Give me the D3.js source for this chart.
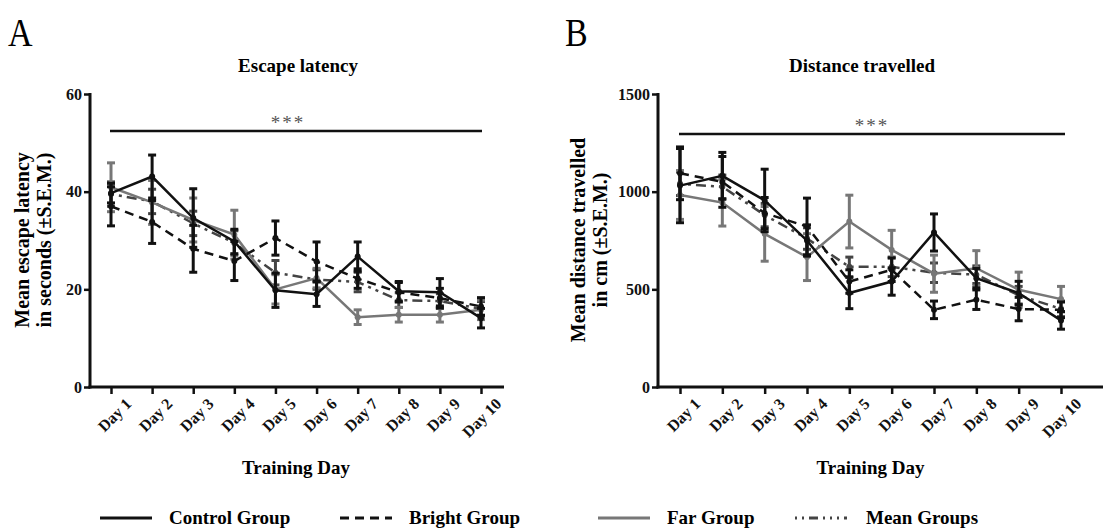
<!DOCTYPE html>
<html>
<head>
<meta charset="utf-8">
<script src="https://cdn.jsdelivr.net/npm/d3@7"></script>
<style>
  body { margin: 0; background: #fff; }
  svg text { font-family: "Liberation Serif", "DejaVu Serif", serif; }
</style>
</head>
<body>
<svg id="chart" width="1103" height="529"></svg>
<script>
// categories
const days = ["Day 1", "Day 2", "Day 3", "Day 4", "Day 5", "Day 6", "Day 7", "Day 8", "Day 9", "Day 10"];
const groups = ["Control Group", "Bright Group", "Far Group", "Mean Groups"];

// A - escape latency (s), mean and SEM
const latControl = [39.7, 43.1, 34.6, 29.8, 19.8, 19.0, 26.7, 19.6, 19.4, 14.1];
const latControlErr = [2.0, 4.4, 6.0, 2.5, 3.5, 2.5, 3.0, 2.0, 2.8, 2.0];
const latBright = [37.0, 33.8, 28.3, 25.8, 30.5, 25.7, 22.2, 19.4, 18.2, 16.5];
const latBrightErr = [4.0, 4.4, 4.8, 4.0, 3.5, 4.0, 2.0, 2.0, 2.0, 1.8];
const latFar = [40.9, 37.8, 34.2, 31.2, 20.0, 22.3, 14.3, 14.8, 14.8, 15.8];
const latFarErr = [5.0, 4.5, 4.5, 5.0, 3.0, 2.0, 1.5, 1.5, 1.5, 2.0];
const latMean = [39.5, 38.0, 33.5, 29.5, 23.4, 22.0, 21.5, 17.8, 17.6, 16.0];
const latMeanErr = [2.5, 2.5, 2.5, 2.5, 2.5, 2.0, 2.0, 1.5, 1.5, 1.5];

// B - distance travelled (cm), mean and SEM
const distControl = [1031, 1081, 955, 750, 481, 540, 791, 557, 481, 341];
const distControlErr = [190, 120, 160, 80, 80, 70, 95, 50, 60, 45];
const distBright = [1094, 1050, 890, 822, 540, 600, 395, 447, 399, 395];
const distBrightErr = [135, 130, 80, 145, 60, 60, 45, 50, 60, 40];
const distFar = [983, 944, 784, 665, 847, 702, 580, 608, 498, 450];
const distFarErr = [125, 120, 140, 120, 135, 100, 95, 90, 90, 65];
const distMean = [1040, 1025, 880, 760, 615, 615, 585, 575, 470, 400];
const distMeanErr = [60, 60, 60, 55, 50, 50, 50, 45, 45, 40];

// tick labels
const latTicks = [0, 20, 40, 60];
const distTicks = [0, 500, 1000, 1500];

const styles = {
  "Control Group": { color: "#111", dash: null },
  "Bright Group": { color: "#111", dash: "9,6" },
  "Far Group": { color: "#777", dash: null },
  "Mean Groups": { color: "#444", dash: "3,5,3,5,10,5" }
};

const svg = d3.select("#chart");

function drawPanel(p) {
  const g = svg.append("g");
  const x = d3.scalePoint().domain(days).range([p.x0, p.x1]);
  const y = d3.scaleLinear().domain([0, p.max]).range([387, 94]);

  // panel letter and title
  g.append("text").attr("x", p.letterX).attr("y", 46)
    .attr("font-size", 40).attr("transform", `scale(0.85,1) translate(${p.letterX * 0.1765},0)`)
    .text(p.letter);
  g.append("text").attr("x", p.titleX).attr("y", 72)
    .attr("text-anchor", "middle").attr("font-size", 19).attr("font-weight", "bold")
    .text(p.title);

  // y axis
  const yAxis = g.append("g").attr("transform", `translate(${p.axisX},0)`)
    .call(d3.axisLeft(y).tickValues(p.ticks).tickSize(6).tickPadding(2).tickFormat(d3.format("d")));
  yAxis.select(".domain").remove();
  yAxis.selectAll("line").attr("stroke", "#111").attr("stroke-width", 2.5);
  yAxis.selectAll("text").attr("font-size", 16).attr("font-weight", "bold")
    .attr("font-family", "Liberation Serif").attr("fill", "#111");
  g.append("line").attr("x1", p.axisX).attr("x2", p.axisX)
    .attr("y1", y(p.max) - 1).attr("y2", y(0) + 1.5)
    .attr("stroke", "#111").attr("stroke-width", 3);

  // x axis
  const xAxis = g.append("g").attr("transform", `translate(0,${y(0)})`)
    .call(d3.axisBottom(x).tickSize(7).tickPadding(3));
  xAxis.select(".domain").remove();
  xAxis.selectAll("line").attr("stroke", "#111").attr("stroke-width", 2.5);
  xAxis.selectAll("text").attr("font-size", 16).attr("font-weight", "bold")
    .attr("font-family", "Liberation Serif").attr("fill", "#111")
    .attr("text-anchor", "end")
    .attr("transform", "translate(7,4) rotate(-45)")
    .attr("dy", "0.6em");
  g.append("line").attr("x1", p.axisX - 1.5).attr("x2", p.axisEnd)
    .attr("y1", y(0)).attr("y2", y(0))
    .attr("stroke", "#111").attr("stroke-width", 3);

  // axis titles
  const ly = g.append("text").attr("transform", `translate(${p.ylabX},240) rotate(-90)`)
    .attr("text-anchor", "middle").attr("font-size", 20).attr("font-weight", "bold");
  ly.append("tspan").attr("x", 0).attr("dy", 0).text(p.ylab[0]);
  ly.append("tspan").attr("x", 0).attr("dy", 22).text(p.ylab[1]);
  g.append("text").attr("x", (p.x0 + p.x1) / 2).attr("y", 474)
    .attr("text-anchor", "middle").attr("font-size", 19).attr("font-weight", "bold")
    .text("Training Day");

  // significance bar
  g.append("line").attr("x1", p.x0 - 1).attr("x2", p.barEnd)
    .attr("y1", p.barY).attr("y2", p.barY)
    .attr("stroke", "#111").attr("stroke-width", 2.5);
  g.append("text").attr("x", p.starX).attr("y", p.barY - 2)
    .attr("text-anchor", "middle").attr("font-size", 19).attr("fill", "#555")
    .attr("letter-spacing", 2).text("***");

  // series
  const line = d3.line().x((d, i) => x(days[i])).y(d => y(d));
  p.series.forEach(s => {
    const st = styles[s.name];
    const sg = g.append("g");
    // error bars
    s.values.forEach((v, i) => {
      const cx = x(days[i]);
      const lo = y(v - s.err[i]), hi = y(v + s.err[i]);
      sg.append("line").attr("x1", cx).attr("x2", cx).attr("y1", lo).attr("y2", hi)
        .attr("stroke", st.color).attr("stroke-width", 3);
      [lo, hi].forEach(yy => sg.append("line")
        .attr("x1", cx - 4).attr("x2", cx + 4).attr("y1", yy).attr("y2", yy)
        .attr("stroke", st.color).attr("stroke-width", 3));
    });
    sg.append("path").datum(s.values).attr("d", line)
      .attr("fill", "none").attr("stroke", st.color).attr("stroke-width", 2.5)
      .attr("stroke-dasharray", st.dash);
    sg.selectAll("circle").data(s.values).join("circle")
      .attr("cx", (d, i) => x(days[i])).attr("cy", d => y(d)).attr("r", 3)
      .attr("fill", st.color);
  });
}

drawPanel({
  letter: "A", letterX: 8, title: "Escape latency", titleX: 298,
  x0: 111, x1: 481, axisX: 90, axisEnd: 504, max: 60, ticks: latTicks,
  ylab: ["Mean escape latency", "in seconds (±S.E.M.)"], ylabX: 29,
  barY: 131, barEnd: 482, starX: 288,
  series: [
    { name: "Mean Groups", values: latMean, err: latMeanErr },
    { name: "Far Group", values: latFar, err: latFarErr },
    { name: "Bright Group", values: latBright, err: latBrightErr },
    { name: "Control Group", values: latControl, err: latControlErr }
  ]
});

drawPanel({
  letter: "B", letterX: 565, title: "Distance travelled", titleX: 862,
  x0: 680, x1: 1061, axisX: 658, axisEnd: 1103, max: 1500, ticks: distTicks,
  ylab: ["Mean distance travelled", "in cm (±S.E.M.)"], ylabX: 585,
  barY: 134, barEnd: 1065, starX: 872,
  series: [
    { name: "Mean Groups", values: distMean, err: distMeanErr },
    { name: "Far Group", values: distFar, err: distFarErr },
    { name: "Bright Group", values: distBright, err: distBrightErr },
    { name: "Control Group", values: distControl, err: distControlErr }
  ]
});

// legend
const legendX = [100, 340, 598, 795];
const legend = svg.append("g").attr("transform", "translate(0,518)");
groups.forEach((name, i) => {
  const st = styles[name];
  const lg = legend.append("g").attr("transform", `translate(${legendX[i]},0)`);
  lg.append("line").attr("x1", 0).attr("x2", 52).attr("y1", 0).attr("y2", 0)
    .attr("stroke", st.color).attr("stroke-width", 3)
    .attr("stroke-dasharray", name === "Bright Group" ? "9,6" : name === "Mean Groups" ? "2,5,2,5,9,5,2,5" : null);
  lg.append("text").attr("x", i === 3 ? 71 : 69).attr("y", 6)
    .attr("font-size", 19).attr("font-weight", "bold").text(name);
});
</script>
</body>
</html>
